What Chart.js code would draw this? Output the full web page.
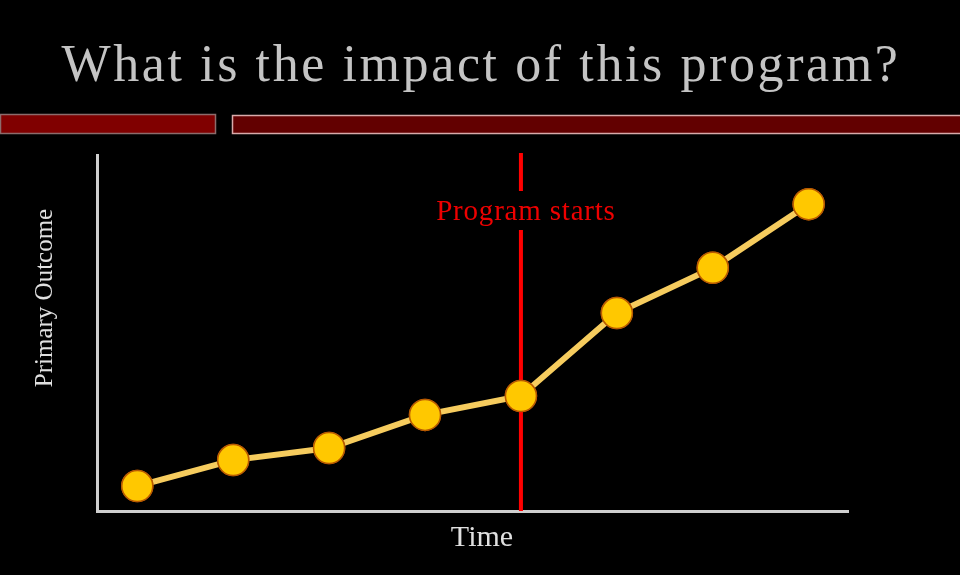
<!DOCTYPE html>
<html>
<head>
<meta charset="utf-8">
<script src="https://cdn.jsdelivr.net/npm/chart.js@4.4.1/dist/chart.umd.min.js"></script>
<style>
  html, body { margin: 0; padding: 0; background: #000; }
  canvas { display: block; }
</style>
</head>
<body>
<canvas id="mainChart" width="960" height="575"></canvas>
<script>
// time points and outcome values
let timePoints = [0, 1, 2, 3, 4, 5, 6, 7];
let outcomeValues = [7.0, 14.3, 17.7, 27.0, 32.3, 55.6, 68.3, 86.2];
let programStart = 4;

let chartTitle = "What is the impact of this program?";
let yTitle = "Primary Outcome";
let xTitle = "Time";
let startLabel = "Program starts";

// title, red banner bars, axis titles and the "program starts" line
const slidePlugin = {
    id: "slideDeco",
    beforeDraw(chart) {
        let ctx = chart.ctx;
        ctx.save();
        ctx.fillStyle = "#000";
        ctx.fillRect(0, 0, chart.width, chart.height);

        ctx.fillStyle = "#c4c4c4";
        ctx.font = "52px 'Liberation Serif', serif";
        ctx.textAlign = "center";
        ctx.textBaseline = "alphabetic";
        if ("letterSpacing" in ctx) ctx.letterSpacing = "2.6px";
        ctx.fillText(chartTitle, 481, 81);
        if ("letterSpacing" in ctx) ctx.letterSpacing = "0px";

        // banner bars
        ctx.fillStyle = "#800000";
        ctx.fillRect(0, 114, 216, 20);
        ctx.strokeStyle = "#8c6c6c";
        ctx.lineWidth = 1.5;
        ctx.strokeRect(0.5, 114.5, 215, 19);
        ctx.fillStyle = "#620000";
        ctx.fillRect(232, 115, 728, 19);
        ctx.strokeStyle = "#d8aaaa";
        ctx.strokeRect(232.5, 115.5, 740, 18);
        ctx.restore();
    },
    afterDatasetsDraw(chart) {
        let ctx = chart.ctx;
        let area = chart.chartArea;
        let x = chart.scales.x.getPixelForValue(programStart);
        ctx.save();
        ctx.strokeStyle = "#ff0000";
        ctx.lineWidth = 4;
        ctx.beginPath();
        ctx.moveTo(x, area.top - 2);
        ctx.lineTo(x, 191);
        ctx.moveTo(x, 230);
        ctx.lineTo(x, area.bottom);
        ctx.stroke();

        ctx.fillStyle = "#ee0000";
        ctx.font = "29px 'Liberation Serif', serif";
        ctx.textAlign = "center";
        ctx.textBaseline = "middle";
        if ("letterSpacing" in ctx) ctx.letterSpacing = "0.8px";
        ctx.fillText(startLabel, x + 5, 212);
        if ("letterSpacing" in ctx) ctx.letterSpacing = "0px";

        ctx.fillStyle = "#e0e0e0";
        ctx.font = "30px 'Liberation Serif', serif";
        ctx.fillText(xTitle, 482, 538);

        ctx.translate(45, 298);
        ctx.rotate(-Math.PI / 2);
        ctx.font = "25px 'Liberation Serif', serif";
        ctx.fillText(yTitle, 0, 0);
        ctx.restore();
    }
};

// redraw the points over the red line
const pointsOnTop = {
    id: "pointsOnTop",
    afterDraw(chart) {
        let meta = chart.getDatasetMeta(0);
        meta.data.forEach(function (pt) { pt.draw(chart.ctx, chart.chartArea); });
    }
};

let data = timePoints.map(function (t, i) { return { x: t, y: outcomeValues[i] }; });

new Chart(document.getElementById("mainChart"), {
    type: "line",
    data: {
        datasets: [{
            data: data,
            borderColor: "#f6cc5e",
            borderWidth: 6,
            pointRadius: 15.5,
            pointHoverRadius: 15.5,
            pointBackgroundColor: "#ffc800",
            pointBorderColor: "#b85a00",
            pointBorderWidth: 1.5,
            tension: 0
        }]
    },
    options: {
        responsive: false,
        animation: false,
        events: [],
        layout: {
            padding: { left: 97, right: 112, top: 155, bottom: 64 }
        },
        plugins: {
            legend: { display: false },
            tooltip: { enabled: false }
        },
        scales: {
            x: {
                type: "linear",
                min: -0.42,
                max: 7.41,
                ticks: { display: false },
                grid: { display: true, drawOnChartArea: false, drawTicks: false },
                border: { display: true, color: "#cfcfcf", width: 3 }
            },
            y: {
                min: 0,
                max: 100,
                ticks: { display: false },
                grid: { display: true, drawOnChartArea: false, drawTicks: false },
                border: { display: true, color: "#cfcfcf", width: 3 }
            }
        }
    },
    plugins: [slidePlugin, pointsOnTop]
});
</script>
</body>
</html>
